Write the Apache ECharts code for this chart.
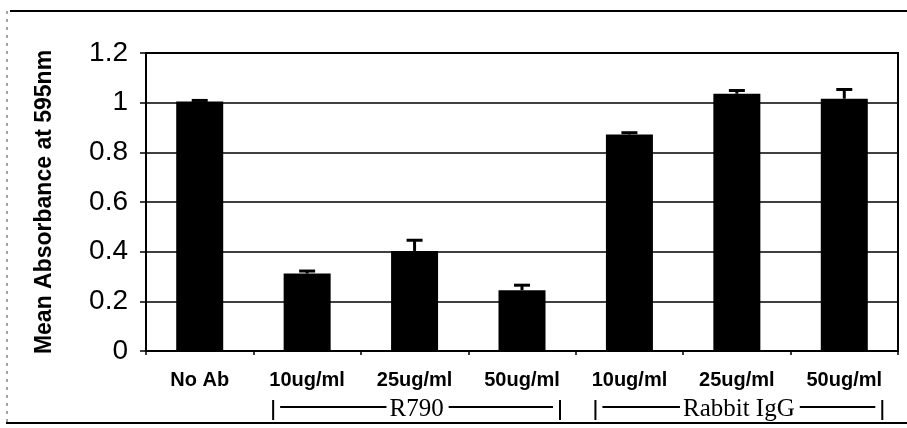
<!DOCTYPE html>
<html>
<head>
<meta charset="utf-8">
<script src="https://cdn.jsdelivr.net/npm/echarts@6/dist/echarts.min.js"></script>
<style>
  html, body { margin: 0; padding: 0; background: #fff; }
  #chart { width: 907px; height: 428px; }
</style>
</head>
<body>
<div id="chart"></div>
<script>
// values
const categories = ["No Ab", "10ug/ml", "25ug/ml", "50ug/ml", "10ug/ml", "25ug/ml", "50ug/ml"];
const means = [1.005, 0.312, 0.403, 0.245, 0.872, 1.036, 1.016];
const errors = [0.004, 0.01, 0.043, 0.02, 0.007, 0.013, 0.037];
const groups = [
  { name: "R790", from: 1, to: 3 },
  { name: "Rabbit IgG", from: 4, to: 6 },
];
const yMin = 0, yMax = 1.2, yStep = 0.2;

const sans = "'Liberation Sans', Arial, sans-serif";
const serif = "'Liberation Serif', 'Times New Roman', serif";

const chart = echarts.init(document.getElementById("chart"));

chart.setOption({
  animation: false,
  grid: {
    left: 146, right: 9, top: 53, bottom: 77,
    show: true, borderColor: "#000", borderWidth: 2,
  },
  xAxis: {
    type: "category",
    data: categories,
    axisLine: { lineStyle: { color: "#000", width: 2 } },
    axisTick: { show: true, length: 4, lineStyle: { color: "#000", width: 1.5 } },
    axisLabel: {
      margin: 19, color: "#000", fontFamily: sans, fontWeight: "bold", fontSize: 20,
    },
  },
  yAxis: {
    type: "value",
    min: yMin, max: yMax, interval: yStep,
    name: "Mean Absorbance at 595nm",
    nameLocation: "middle",
    nameGap: 90,
    nameTextStyle: { color: "#000", fontFamily: sans, fontWeight: "bold", fontSize: 23 },
    axisLine: { show: true, lineStyle: { color: "#000", width: 2 } },
    axisTick: { show: true, length: 6, lineStyle: { color: "#000", width: 1.5 } },
    axisLabel: { margin: 18, color: "#000", fontFamily: sans, fontSize: 28 },
    splitLine: { lineStyle: { color: "#000", width: 1.6 } },
  },
  series: [
    {
      type: "bar",
      data: means,
      barWidth: 47,
      itemStyle: { color: "#000" },
    },
    {
      type: "custom",
      data: means.map((m, i) => [i, m, errors[i]]),
      z: 5,
      renderItem: (params, api) => {
        const i = api.value(0);
        const base = api.coord([i, api.value(1)]);
        const top = api.coord([i, api.value(1) + api.value(2)]);
        const style = { stroke: "#000", lineWidth: 3 };
        return {
          type: "group",
          children: [
            { type: "line", shape: { x1: base[0], y1: base[1], x2: top[0], y2: top[1] }, style },
            { type: "line", shape: { x1: top[0] - 8, y1: top[1], x2: top[0] + 8, y2: top[1] }, style },
          ],
        };
      },
    },
  ],
});

// group brackets under the category labels, and the scanned page frame
const groupFont = "25px " + serif;
const ctx = document.createElement("canvas").getContext("2d");
ctx.font = groupFont;
const graphics = [
  { type: "line", shape: { x1: 10, y1: 11, x2: 907, y2: 11 }, style: { stroke: "#000", lineWidth: 2 } },
  { type: "line", shape: { x1: 6, y1: 423, x2: 907, y2: 423 }, style: { stroke: "#000", lineWidth: 2 } },
  { type: "line", shape: { x1: 7, y1: 11, x2: 7, y2: 423 }, style: { stroke: "#444", lineWidth: 1, lineDash: [3, 5] } },
];
groups.forEach((g) => {
  const xl = chart.convertToPixel({ xAxisIndex: 0 }, g.from) - 34;
  const xr = chart.convertToPixel({ xAxisIndex: 0 }, g.to) + 38;
  const mid = (xl + xr) / 2;
  const w = ctx.measureText(g.name).width;
  const line = { stroke: "#000", lineWidth: 2 };
  graphics.push(
    { type: "line", shape: { x1: xl, y1: 400, x2: xl, y2: 420 }, style: line },
    { type: "line", shape: { x1: xr, y1: 400, x2: xr, y2: 420 }, style: line },
    { type: "line", shape: { x1: xl + 7, y1: 407, x2: mid - w / 2 - 3, y2: 407 }, style: line },
    { type: "line", shape: { x1: mid + w / 2 + 5, y1: 407, x2: xr - 7, y2: 407 }, style: line },
    {
      type: "text", x: mid, y: 409,
      style: { text: g.name, font: groupFont, fill: "#000", align: "center", verticalAlign: "middle" },
    }
  );
});
chart.setOption({ graphic: graphics });
</script>
</body>
</html>
